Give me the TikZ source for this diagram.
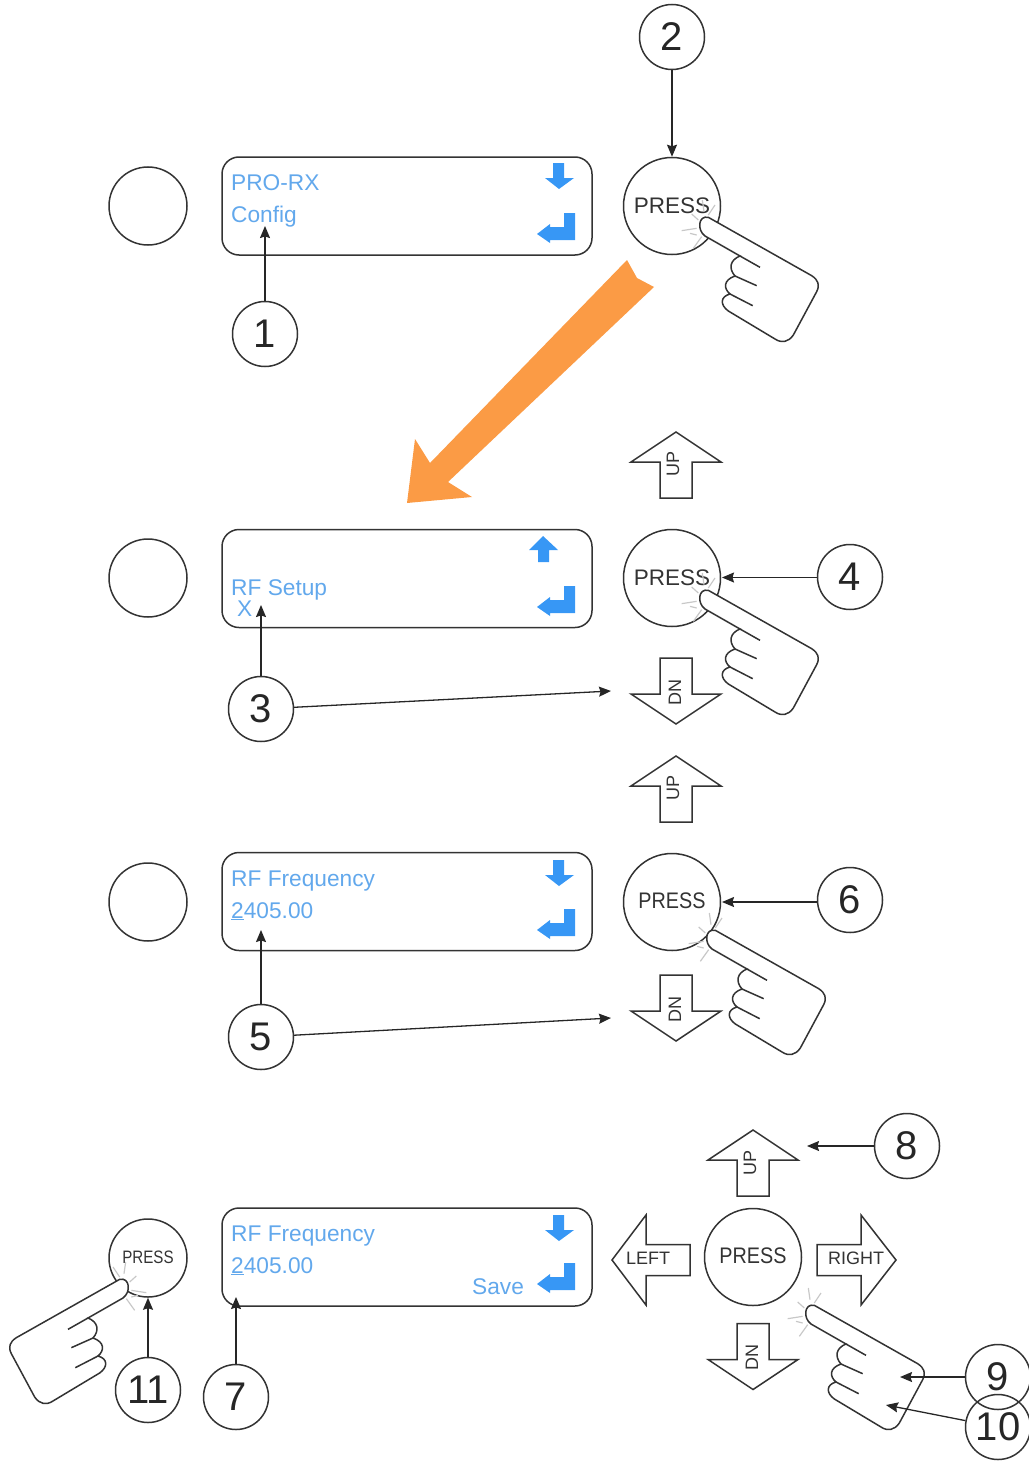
\documentclass[tikz,border=0pt]{standalone}
\usepackage{graphicx}
\usepackage{fontspec}
\setmainfont{Liberation Sans}
\usetikzlibrary{arrows.meta}
\definecolor{ink}{HTML}{333333}
\definecolor{lcdtext}{HTML}{62A8EC}
\definecolor{icon}{HTML}{3797F5}
\definecolor{orangearrow}{HTML}{FB9B45}
\definecolor{sparkc}{HTML}{C8C8C8}
\newcommand{\fs}[1]{\fontsize{#1}{#1}\selectfont}
\newcommand{\btntext}[2]{\raisebox{#1pt}{\scalebox{#2}[1]{PRESS}}}
\tikzset{
  ln/.style={draw=ink,line width=1.5pt},
  conn/.style={draw=black!85,line width=1.3pt,-{Stealth[length=12pt,width=10pt,inset=1.5pt]}},
  lcd/.style={ln,rounded corners=17pt,minimum width=370pt,minimum height=98pt,inner sep=0pt},
  blank/.style={ln,circle,minimum size=78pt,inner sep=0pt},
  bigbtn/.style={ln,circle,minimum size=97pt,inner sep=0pt,text=ink,font=\fs{22.5}},
  smallbtn/.style={ln,circle,minimum size=78pt,inner sep=0pt,text=ink,font=\fs{18}},
  num/.style={ln,circle,minimum size=65pt,inner sep=0pt,text=black!85,font=\fs{40}},
  lcdtxt/.style={anchor=base west,inner sep=0pt,text=lcdtext,font=\fs{22.7}},
  keytxt/.style={inner sep=0pt,text=ink,font=\fs{18}},
  hand/.pic={
    \draw[sparkc,line width=1.2pt] (-25,-33)--(-5,-15) (-55,17)--(-10,10) (-20,70)--(5,35) (45,-60)--(25,-30) (-30,25)--(-10,30) (7,-75)--(12,-40);
    \path[ln,fill=white] (25,-23) -- (335,152) .. controls (355,165) and (360,180) .. (350,200) -- (280,330)
      .. controls (265,352) and (245,355) .. (225,342) -- (85,258)
      .. controls (60,240) and (60,215) .. (90,207)
      .. controls (70,190) and (70,165) .. (105,153)
      .. controls (85,130) and (90,105) .. (120,93)
      -- (15,33) .. controls (-10,15) and (-5,-30) .. (25,-23);
    \draw[ln] (120,93)--(180,127) (105,153)--(170,182) (90,207)--(158,242);
  },
  downicon/.pic={\fill[icon] (0,0)--(-14,-11)--(-6,-11)--(-6,-26)--(5,-26)--(5,-11)--(15,-11)--cycle;},
  upicon/.pic={\fill[icon] (0,0)--(-14,14)--(-5,14)--(-5,26)--(6,26)--(6,14)--(15,14)--cycle;},
  returnicon/.pic={\fill[icon] (0,0)--(13,-10)--(13,-7)--(27,-7)--(27,-21)--(38,-21)--(38,6)--(13,6)--(13,9)--cycle;},
  uparrow/.pic={\path[ln,fill=white,line join=miter] (0,0)--(45,30)--(16,30)--(16,66)--(-16,66)--(-16,30)--(-45,30)--cycle;},
  dnarrow/.pic={\path[ln,fill=white,line join=miter] (0,0)--(45,-30)--(16,-30)--(16,-66)--(-16,-66)--(-16,-30)--(-45,-30)--cycle;},
}
\begin{document}
\begin{tikzpicture}[x=1pt,y=-1pt]
\useasboundingbox (0,0) rectangle (1028,1461);

% orange flow arrow
\fill[orangearrow] (627,260)--(637,278)--(654,287)--(448,482)--(472,497)--(407,503)--(415,439)--(430,463)--cycle;

% row 1
\node[blank] (blankA) at (148,206) {};
\node[lcd] (lcdA) at (407,206) {};
\node[lcdtxt] (tA1) at (231,190) {PRO-RX};
\node[lcdtxt] (tA2) at (231,222) {Config};
\pic at (559,189) {downicon};
\pic at (537,234) {returnicon};
\node[bigbtn] (pressA) at (672,206) {\btntext{1.5}{1}};
\pic[scale=1/3] at (700,225) {hand};
\node[num] (n2) at (672,37) {2};
\node[num] (n1) at (265,334) {1};
\coordinate (c1) at (265,226);
\draw[conn] (n2) -- (pressA);
\draw[conn] (n1) -- (c1);

% row 2
\pic at (676,432) {uparrow};
\node[keytxt,rotate=90] (upB) at (673,464) {UP};
\node[blank] (blankB) at (148,578) {};
\node[lcd] (lcdB) at (407,578.5) {};
\node[lcdtxt] (tB1) at (231,595) {RF Setup};
\node[lcdtxt] (tB2) at (237,616) {X};
\pic at (543,536) {upicon};
\pic at (537,607) {returnicon};
\node[bigbtn] (pressB) at (672,578) {\btntext{1}{1}};
\pic[scale=1/3] at (700,598) {hand};
\pic at (676,724) {dnarrow};
\node[keytxt,rotate=90] (dnB) at (675,692) {DN};
\node[num] (n3) at (261,709) {3};
\node[num] (n4) at (850,577) {4};
\coordinate (c3a) at (261,605);
\coordinate (c3b) at (611,691);
\coordinate (c4) at (722,577.5);
\draw[conn] (n3) -- (c3a);
\draw[conn] (n3) -- (c3b);
\draw[conn] (n4.west |- c4) -- (c4);

% row 3
\pic at (676,756) {uparrow};
\node[keytxt,rotate=90] (upC) at (673,788) {UP};
\node[blank] (blankC) at (148,902) {};
\node[lcd] (lcdC) at (407,901.5) {};
\node[lcdtxt] (tC1) at (231,886) {RF Frequency};
\node[lcdtxt] (tC2) at (231,918) {\underline{2}405.00};
\pic at (559,886) {downicon};
\pic at (537,930) {returnicon};
\node[bigbtn] (pressC) at (672,902) {\btntext{2}{.88}};
\pic[scale=1/3] at (707,938) {hand};
\pic at (676,1041) {dnarrow};
\node[keytxt,rotate=90] (dnC) at (675,1009) {DN};
\node[num] (n5) at (261,1037) {5};
\node[num] (n6) at (850,900) {6};
\coordinate (c5a) at (261,930);
\coordinate (c5b) at (611,1018);
\coordinate (c6) at (722,902);
\draw[conn] (n5) -- (c5a);
\draw[conn] (n5) -- (c5b);
\draw[conn] (n6.west |- c6) -- (c6);

% row 4
\pic at (753,1130) {uparrow};
\node[keytxt,rotate=90] (upD) at (750,1163) {UP};
\pic at (753,1389.5) {dnarrow};
\node[keytxt,rotate=90] (dnD) at (752,1357) {DN};
\path[ln,fill=white,line join=miter] (612,1260)--(646,1215)--(646,1244.5)--(690,1244.5)--(690,1275.5)--(646,1275.5)--(646,1305)--cycle;
\node[keytxt] (leftD) at (648,1258) {LEFT};
\path[ln,fill=white,line join=miter] (896,1260)--(861,1215)--(861,1244.5)--(817,1244.5)--(817,1275.5)--(861,1275.5)--(861,1305)--cycle;
\node[keytxt] (rightD) at (856,1258) {RIGHT};
\node[lcd] (lcdD) at (407,1257) {};
\node[lcdtxt] (tD1) at (231,1241) {RF Frequency};
\node[lcdtxt] (tD2) at (231,1273) {\underline{2}405.00};
\node[lcdtxt] (tD3) at (472,1294) {Save};
\pic at (559,1241) {downicon};
\pic at (537,1284) {returnicon};
\node[bigbtn] (pressD) at (753,1257) {\btntext{2}{.88}};
\pic[scale=1/3] at (806,1313) {hand};
\node[smallbtn] (pressE) at (148,1258) {\btntext{2}{.84}};
\pic[xscale=-1/3,yscale=1/3] at (128,1287) {hand};
\node[num] (n7) at (236,1397) {7};
\node[num] (n8) at (907,1146) {8};
\node[num] (n9) at (998,1377) {9};
\node[num] (n10) at (998,1427) {10};
\node[num] (n11) at (148,1390) {11};
\coordinate (c7) at (236,1297);
\coordinate (c8) at (807,1146);
\coordinate (c9) at (900,1377);
\coordinate (c10) at (886,1405);
\draw[conn] (n7) -- (c7);
\draw[conn] (n8) -- (c8);
\draw[conn] (n9) -- (c9);
\draw[conn] (n10) -- (c10);
\draw[conn] (n11) -- (pressE);
\end{tikzpicture}
\end{document}
